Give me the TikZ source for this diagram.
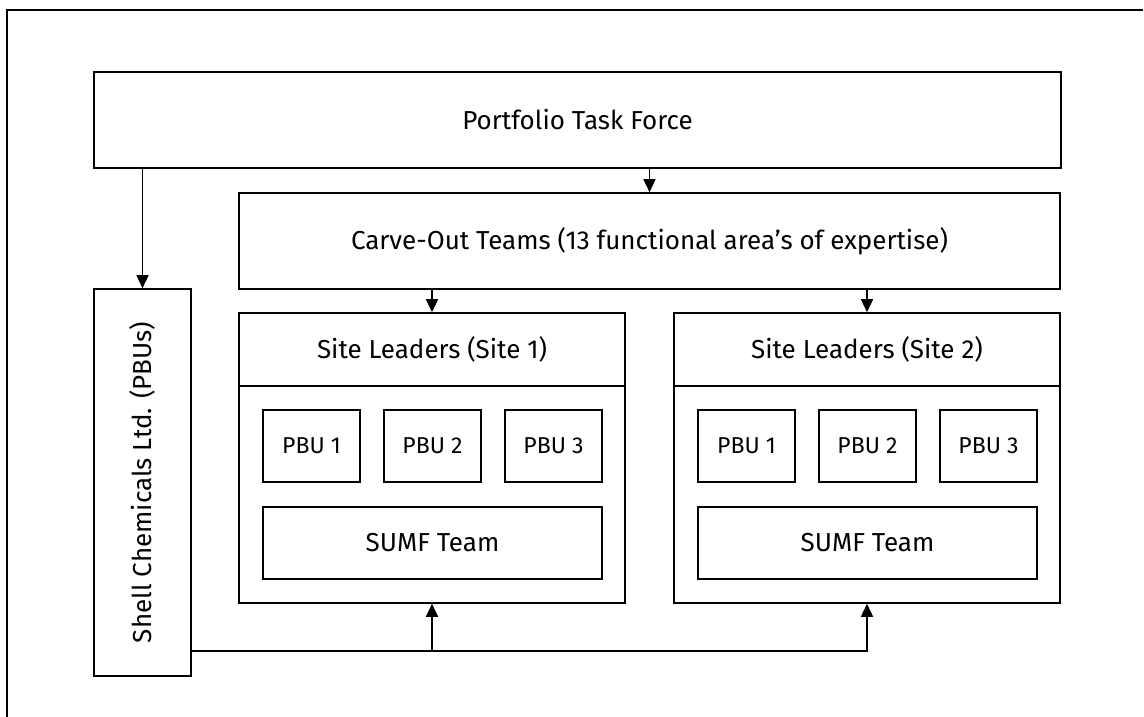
\documentclass[tikz,border=0pt]{standalone}
\usepackage{fontspec}
\setmainfont{Fira Sans}
\usetikzlibrary{arrows.meta}

\begin{document}
\begin{tikzpicture}[x=1pt,y=-1pt,
  box/.style={draw,line width=1.6pt,inner sep=0pt,font=\fontsize{26}{30}\selectfont},
  pbu/.style={box,minimum width=97pt,minimum height=72pt,font=\fontsize{23}{27}\selectfont},
  link/.style={line width=1.6pt,-{Triangle[length=13pt,width=12pt]}}]
\useasboundingbox (0,0) rectangle (1144,717);
\draw[line width=2.2pt] (7,717) -- (7,10) -- (1143,10);

\node[box,minimum width=967pt,minimum height=96pt] (ptf) at (577.5,120) {Portfolio Task Force};
\node[box,minimum width=821pt,minimum height=96pt] (carve) at (649.5,241) {Carve-Out Teams (13 functional area’s of expertise)};
\node[box,minimum width=97pt,minimum height=387pt] (shell) at (142.5,482.5) {};
\node[rotate=90,font=\fontsize{26}{30}\selectfont] (shelltext) at (shell.center) {Shell Chemicals Ltd. (PBUs)};

% the two sites
\node[box,minimum width=386pt,minimum height=290pt] (site1) at (432,458) {};
\node[box,minimum width=386pt,minimum height=73pt] (head1) at (432,349.5) {Site Leaders (Site 1)};
\node[pbu] (pbu11) at (311.5,446) {PBU 1};
\node[pbu] (pbu12) at (432.5,446) {PBU 2};
\node[pbu] (pbu13) at (553.5,446) {PBU 3};
\node[box,minimum width=339pt,minimum height=72pt] (sumf1) at (432.5,543) {SUMF Team};

\node[box,minimum width=386pt,minimum height=290pt] (site2) at (867,458) {};
\node[box,minimum width=386pt,minimum height=73pt] (head2) at (867,349.5) {Site Leaders (Site 2)};
\node[pbu] (pbu21) at (746.5,446) {PBU 1};
\node[pbu] (pbu22) at (867.5,446) {PBU 2};
\node[pbu] (pbu23) at (988.5,446) {PBU 3};
\node[box,minimum width=339pt,minimum height=72pt] (sumf2) at (867.5,543) {SUMF Team};

% arrows
\draw[link] (carve.north |- ptf.south) -- (carve.north);
\draw[link] (shell.north |- ptf.south) -- (shell.north);
\draw[link] (site1.north |- carve.south) -- (site1.north);
\draw[link] (site2.north |- carve.south) -- (site2.north);
\coordinate (bus) at (shell.east |- 0,651);
\draw[link] (bus) -| (site2.south);
\draw[link] (site1.south |- bus) -- (site1.south);
\end{tikzpicture}
\end{document}
